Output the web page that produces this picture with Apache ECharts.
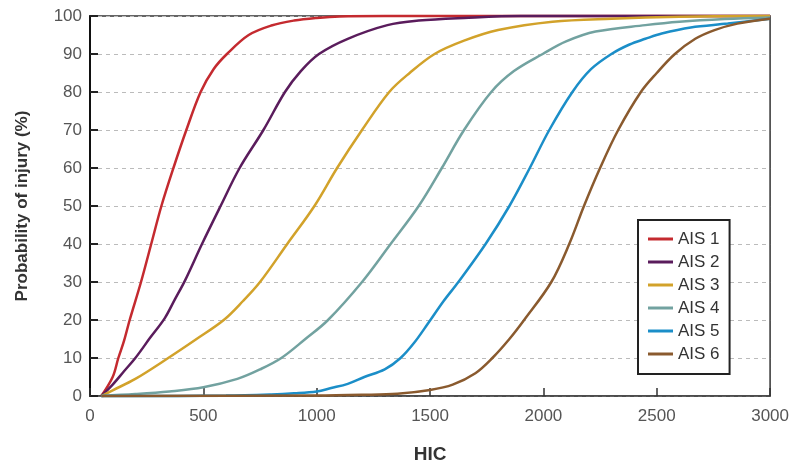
<!DOCTYPE html>
<html>
<head>
<meta charset="utf-8">
<script src="https://cdn.jsdelivr.net/npm/echarts@6/dist/echarts.min.js"></script>
<style>
  html, body { margin: 0; padding: 0; background: #fff; }
  #chart { width: 792px; height: 469px; }
</style>
</head>
<body>
<div id="chart"></div>
<script>
// Probability of injury (%) against HIC, one curve per AIS level: [HIC, probability]
const seriesNames = ['AIS 1', 'AIS 2', 'AIS 3', 'AIS 4', 'AIS 5', 'AIS 6'];

const ais1 = [[50,0],[100,5],[125,10],[150,14.5],[175,20],[225,30],[270,40],[315,50],[368,60],[425,70],[488,80],[545,86],[604,90],[700,95],[800,97.5],[900,98.8],[1000,99.5],[1100,99.9],[1300,100],[3000,100]];
const ais2 = [[50,0],[100,3],[150,6.5],[200,10],[265,15.3],[330,20.5],[375,25.5],[420,30.5],[494,40],[576,50],[660,60],[765,70],[860,80],[930,85.5],[1010,90],[1137,94],[1312,97.6],[1450,98.8],[1650,99.5],[1900,100],[3000,100]];
const ais3 = [[50,0],[100,1.5],[200,4.5],[345,10],[470,15],[590,20],[675,25],[750,30],[870,40],[990,50],[1090,60],[1200,70],[1320,80],[1410,85],[1520,90],[1650,93.5],[1800,96.3],[2040,98.5],[2300,99.3],[2600,99.8],[3000,100]];
const ais4 = [[50,0],[200,0.5],[350,1.2],[500,2.3],[650,4.5],[750,7],[844,10],[950,15],[1050,20],[1200,30],[1326,40],[1450,50],[1552,60],[1650,70],[1770,80],[1870,85.5],[1997,90],[2100,93.3],[2230,95.9],[2450,97.6],[2600,98.5],[2800,99.2],[3000,99.6]];
const ais5 = [[50,0],[600,0.1],[800,0.4],[900,0.7],[1000,1.2],[1064,2.1],[1137,3.2],[1210,5],[1300,7],[1370,10],[1430,14],[1490,19],[1560,25],[1625,30],[1745,40],[1850,50],[1940,60],[2026,70],[2128,80],[2210,86],[2300,90],[2380,92.5],[2450,94],[2522,95.4],[2650,97],[2813,98],[3000,99.3]];
const ais6 = [[50,0],[1000,0.1],[1200,0.3],[1356,0.6],[1500,1.6],[1600,3],[1700,6],[1775,10],[1850,15],[1915,20],[2035,30],[2114,40],[2179,50],[2250,60],[2330,70],[2430,80],[2500,85],[2580,90],[2670,94],[2755,96.3],[2856,98],[3000,99.3]];

const curves = [ais1, ais2, ais3, ais4, ais5, ais6];
const colors = ['#c42a2f', '#5a1c5c', '#d2a22a', '#72a2a0', '#1b8ec8', '#8a5a2e'];

const xTicks = { min: 0, max: 3000, interval: 500 };
const yTicks = { min: 0, max: 100, interval: 10 };

const chart = echarts.init(document.getElementById('chart'), null, { renderer: 'canvas' });

chart.setOption({
  animation: false,
  backgroundColor: '#ffffff',
  textStyle: { fontFamily: 'Liberation Sans, Arial, sans-serif' },
  grid: {
    left: 90, right: 15, top: 16, bottom: 71,
    show: true, backgroundColor: '#ffffff',
    borderColor: '#333', borderWidth: 1.5
  },
  xAxis: {
    type: 'value',
    min: xTicks.min, max: xTicks.max, interval: xTicks.interval,
    name: 'HIC',
    nameLocation: 'middle',
    nameGap: 49,
    nameTextStyle: { fontSize: 19, fontWeight: 'bold', color: '#333' },
    axisLine: { show: true, lineStyle: { color: '#444', width: 1.5 } },
    axisTick: { show: true, inside: true, length: 8, lineStyle: { color: '#333', width: 1.5 } },
    axisLabel: { fontSize: 17, color: '#555', margin: 12, formatter: v => String(v) },
    splitLine: { show: false }
  },
  yAxis: {
    type: 'value',
    min: yTicks.min, max: yTicks.max, interval: yTicks.interval,
    name: 'Probability of injury (%)',
    nameLocation: 'middle',
    nameRotate: 90,
    nameGap: 59,
    nameTextStyle: { fontSize: 17, fontWeight: 'bold', color: '#333' },
    axisLine: { show: true, lineStyle: { color: '#111', width: 2 } },
    axisTick: { show: true, inside: true, length: 8, lineStyle: { color: '#222', width: 2 } },
    axisLabel: { fontSize: 17, color: '#555', margin: 8 },
    splitLine: { show: true, lineStyle: { color: '#bbbbbb', type: [4, 4], width: 1 } }
  },
  legend: {
    orient: 'vertical',
    left: 638, top: 220,
    padding: [9, 10, 10, 10],
    backgroundColor: '#ffffff',
    borderColor: '#222', borderWidth: 2, borderRadius: 0,
    itemWidth: 25, itemHeight: 3, itemGap: 3,
    icon: 'rect',
    textStyle: { fontSize: 17, color: '#333', lineHeight: 20 },
    data: seriesNames
  },
  series: curves.map((pts, i) => ({
    name: seriesNames[i],
    type: 'line',
    data: pts,
    smooth: 0.35,
    showSymbol: false,
    clip: false,
    color: colors[i],
    lineStyle: { color: colors[i], width: 2.5 }
  }))
});
</script>
</body>
</html>
